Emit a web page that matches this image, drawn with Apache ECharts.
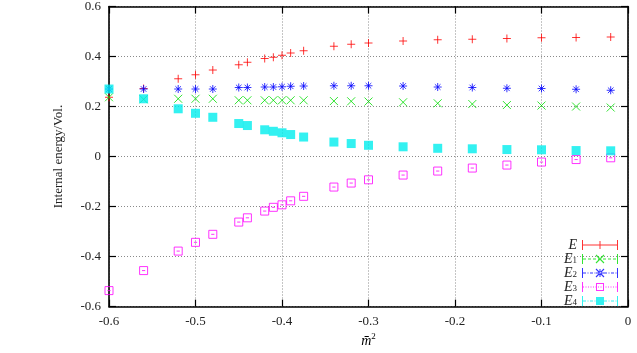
<!DOCTYPE html>
<html><head><meta charset="utf-8">
<script src="https://cdn.jsdelivr.net/npm/echarts@6/dist/echarts.min.js"></script>
<style>html,body{margin:0;padding:0;background:#fff}#c{width:637px;height:353px}</style>
</head><body><div id="c"></div>
<script>
const xs = [-0.6,-0.56,-0.52,-0.5,-0.48,-0.45,-0.44,-0.42,-0.41,-0.40,-0.39,-0.375,-0.34,-0.32,-0.30,-0.26,-0.22,-0.18,-0.14,-0.10,-0.06,-0.02];
const E  = [0.237,0.272,0.311,0.327,0.346,0.367,0.377,0.392,0.397,0.405,0.414,0.423,0.441,0.449,0.454,0.462,0.467,0.469,0.472,0.475,0.476,0.478];
const E1 = [0.237,0.229,0.231,0.231,0.231,0.225,0.225,0.225,0.225,0.225,0.225,0.225,0.222,0.221,0.220,0.217,0.213,0.210,0.206,0.204,0.200,0.196];
const E2 = [0.270,0.270,0.270,0.270,0.270,0.276,0.276,0.278,0.278,0.279,0.281,0.282,0.283,0.283,0.283,0.282,0.278,0.276,0.273,0.272,0.269,0.265];
const E3 = [-0.536,-0.456,-0.378,-0.343,-0.311,-0.262,-0.245,-0.218,-0.203,-0.193,-0.177,-0.159,-0.122,-0.106,-0.093,-0.074,-0.058,-0.046,-0.034,-0.022,-0.012,-0.005];
const E4 = [0.270,0.231,0.191,0.173,0.157,0.132,0.124,0.107,0.101,0.095,0.088,0.078,0.058,0.052,0.045,0.039,0.033,0.031,0.028,0.027,0.024,0.023];
const names = ['E','E1','E2','E3','E4'];
const labels = ['{i|E}','{i|E}{s|1}','{i|E}{s|2}','{i|E}{s|3}','{i|E}{s|4}'];
const colors = ['#ff0000','#00dd00','#0000ff','#ff00ff','#00eeee'];

const FONT = 'Liberation Serif';
function rect(x,y,w,h){return `M${x} ${y}L${x+w} ${y}L${x+w} ${y+h}L${x} ${y+h}Z`;}
function seg(x1,y1,x2,y2,t){const dx=x2-x1,dy=y2-y1,L=Math.hypot(dx,dy);const nx=-dy/L*t/2,ny=dx/L*t/2;
  return `M${x1+nx} ${y1+ny}L${x2+nx} ${y2+ny}L${x2-nx} ${y2-ny}L${x1-nx} ${y1-ny}Z`;}
const caps = rect(0,0,1,10)+rect(35,0,1,10);
function pattern(dashes){
  let p='',x=1,i=0;
  while(x<35){const [l,g]=dashes[i%dashes.length];p+=rect(x,4.5,Math.min(l,35-x),1);x+=l+g;i++;}
  return p;}
const plusM = rect(17.5,1,1,8)+rect(14,4.5,8,1);
const crossM = seg(14,1,22,9,1.1)+seg(14,9,22,1,1.1);
const sqM = rect(14,1,8,1)+rect(14,8,8,1)+rect(14,1,1,8)+rect(21,1,1,8);
const fsqM = rect(14,1,8,8);
const icons = [
  caps+rect(0,4.5,36,1)+plusM,
  caps+pattern([[3,2]])+crossM,
  caps+pattern([[3,1.5],[1,1.5]])+crossM+plusM,
  caps+pattern([[1,1.5]])+sqM,
  caps+pattern([[3,1.5],[1,1.5]])+fsqM
].map(p=>'path://'+p);

const symbols = [
  'path://M0 5L10 5M5 0L5 10',
  'path://M0 0L10 10M10 0L0 10',
  'path://M5 0L5 10M0 5L10 5M1.5 1.5L8.5 8.5M8.5 1.5L1.5 8.5',
  'path://M0 0L10 0L10 10L0 10ZM3 5L7 5',
  'rect'
];
const sets = [E,E1,E2,E3,E4];
const series = sets.map((vals,k)=>({
  name:names[k], type:'scatter', symbol:symbols[k], symbolSize: k===4?9:8,
  data: xs.map((x,i)=>[x,vals[i]]),
  itemStyle: k===4 ? {color:colors[k]} : {color:'none', borderColor:colors[k], borderWidth:1},
  emphasis:{disabled:true}, z: 2+k
}));

const gridLine = {show:true, lineStyle:{color:'#8a8a8a', type:[1,2], width:1}};
const axLine = {show:true, onZero:false, lineStyle:{color:'#000', width:1.6}};
const tick = {inside:true, length:7, lineStyle:{color:'#000', width:1.2}};
const lab = {color:'#222', fontFamily:FONT, fontSize:13};
const fmt = v=>(Math.abs(v)<1e-9?'0':String(+v.toFixed(1)));
const chart = echarts.init(document.getElementById('c'), null, {renderer:'canvas'});
chart.setOption({
  animation:false,
  grid:{left:109, right:9, top:6, bottom:39},
  legend:{
    orient:'vertical', right:14, top:233, align:'right', itemWidth:36, itemHeight:10, itemGap:0,
    data: names.map((n,k)=>({name:n, icon:icons[k], itemStyle:{color:colors[k], borderWidth:0}})),
    formatter: n=>labels[names.indexOf(n)],
    textStyle:{fontFamily:FONT, fontSize:14, color:'#222', lineHeight:10,
      rich:{i:{fontFamily:FONT, fontStyle:'italic', fontSize:14, lineHeight:10},
            s:{fontFamily:FONT, fontSize:9, lineHeight:10, padding:[3,0,0,0]}}}
  },
  xAxis:[
    {type:'value', min:-0.6, max:0, interval:0.1, position:'bottom',
     axisLine:axLine, axisTick:tick,
     splitLine:gridLine, axisLabel:Object.assign({margin:8, formatter:fmt},lab),
     name:'{m|m\u0304}{s|2}', nameLocation:'middle', nameGap:22,
     nameTextStyle:{rich:{m:{fontFamily:FONT, fontStyle:'italic', fontSize:14}, s:{fontFamily:FONT, fontSize:9, padding:[0,0,8,0]}}}},
    {type:'value', min:-0.6, max:0, interval:0.1, position:'top',
     axisLine:axLine, axisTick:tick, splitLine:{show:false}, axisLabel:{show:false}}
  ],
  yAxis:[
    {type:'value', min:-0.6, max:0.6, interval:0.2, position:'left',
     axisLine:axLine, axisTick:tick,
     splitLine:gridLine, axisLabel:Object.assign({margin:8, formatter:fmt},lab),
     name:'Internal energy/Vol.', nameLocation:'middle', nameGap:44,
     nameTextStyle:{fontFamily:FONT, fontSize:13, color:'#222'}},
    {type:'value', min:-0.6, max:0.6, interval:0.2, position:'right',
     axisLine:axLine, axisTick:tick, splitLine:{show:false}, axisLabel:{show:false}}
  ],
  series: series
});
</script></body></html>
